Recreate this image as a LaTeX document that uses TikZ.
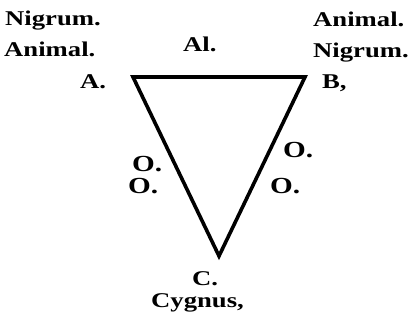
\documentclass[tikz,border=0pt]{standalone}
\usepackage{fontspec}
\usepackage{graphicx}
\setmainfont{Liberation Serif}
\newcommand{\widetxt}[1]{\scalebox{1.27}[1]{#1}}
\tikzset{
  lbl/.style={inner sep=0pt,anchor=base west,font=\fontsize{21}{24}\selectfont\bfseries},
  oletter/.style={inner sep=0pt,anchor=base west,font=\fontsize{23}{25}\selectfont\bfseries}
}
\begin{document}
\begin{tikzpicture}[x=1pt,y=-1pt]
    \useasboundingbox (0,0) rectangle (411,325);

    % Vertices
    \coordinate (A) at (133,77);
    \coordinate (B) at (305,77);
    \coordinate (C) at (219,256);

    % Triangle
    \draw[line width=3.6pt,line join=miter] (A) -- (B) -- (C) -- cycle;

    % Labels at A
    \node[lbl] (nigA) at (5,25) {\widetxt{Nigrum.}};
    \node[lbl] (aniA) at (4,56) {\widetxt{Animal.}};
    \node[lbl] (labA) at (80,88) {\widetxt{A.}};

    % Label on AB
    \node[lbl] (labAl) at (183,51) {\widetxt{Al.}};

    % Labels at B
    \node[lbl] (aniB) at (313,26) {\widetxt{Animal.}};
    \node[lbl] (nigB) at (313,57) {\widetxt{Nigrum.}};
    \node[lbl] (labB) at (322,88) {\widetxt{B,}};

    % Labels on the sides
    \node[oletter] (oL1) at (132,171) {\widetxt{O.}};
    \node[oletter] (oL2) at (128,193) {\widetxt{O.}};
    \node[oletter] (oR1) at (283,157) {\widetxt{O.}};
    \node[oletter] (oR2) at (270,193) {\widetxt{O.}};

    % Labels at C
    \node[lbl] (labC) at (192,285) {\widetxt{C.}};
    \node[lbl] (cyg) at (151,307) {\widetxt{Cygnus,}};
\end{tikzpicture}
\end{document}
